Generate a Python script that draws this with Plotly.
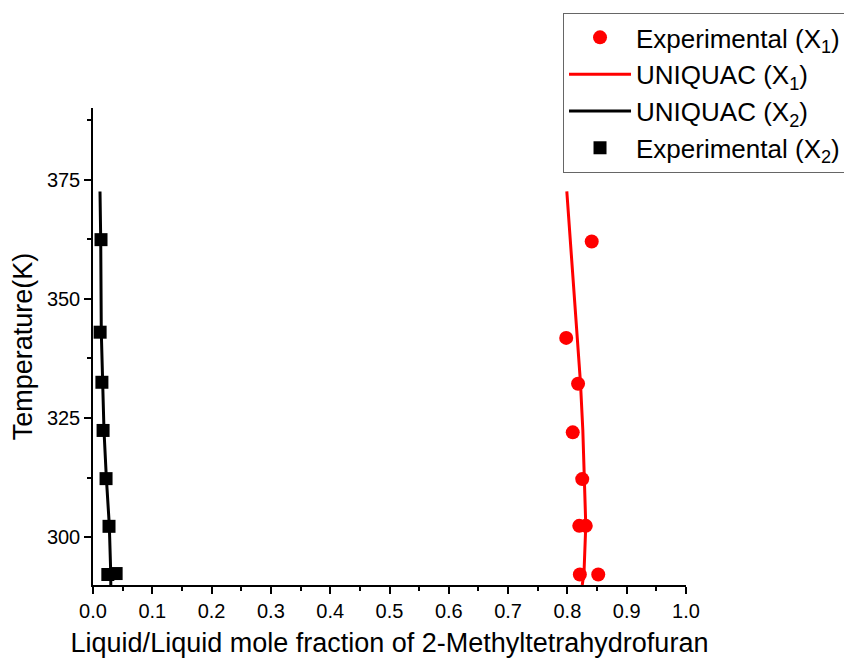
import plotly.graph_objects as go

# Experimental X1 (red circles)
exp1_x = [0.841, 0.798, 0.818, 0.809, 0.825, 0.820, 0.831, 0.821, 0.852]
exp1_t = [362.0, 341.8, 332.2, 322.0, 312.2, 302.4, 302.4, 292.2, 292.2]

# UNIQUAC X1 (red line)
uniq1_x = [0.799, 0.805, 0.811, 0.817, 0.822, 0.826, 0.829, 0.831, 0.828, 0.825]
uniq1_t = [372.5, 362.5, 352.5, 342.5, 332.5, 322.5, 312.5, 302.5, 292.5, 290.0]

# UNIQUAC X2 (black line)
uniq2_x = [0.0118, 0.013, 0.014, 0.0157, 0.0185, 0.0225, 0.0275, 0.030, 0.030]
uniq2_t = [372.5, 362.5, 343.0, 332.5, 322.5, 312.5, 302.5, 292.2, 290.0]

# Experimental X2 (black squares)
exp2_x = [0.0135, 0.012, 0.015, 0.017, 0.022, 0.027, 0.025, 0.039]
exp2_t = [362.4, 343.0, 332.5, 322.4, 312.3, 302.3, 292.2, 292.4]

x_tickvals = [0.0, 0.1, 0.2, 0.3, 0.4, 0.5, 0.6, 0.7, 0.8, 0.9, 1.0]
y_tickvals = [300, 325, 350, 375]

FONT = "Liberation Sans, Arial, sans-serif"

fig = go.Figure()
fig.add_trace(go.Scatter(x=exp1_x, y=exp1_t, mode="markers",
                         marker=dict(symbol="circle", size=14, color="#ff0000"),
                         name="Experimental (X<sub>1</sub>)"))
fig.add_trace(go.Scatter(x=uniq1_x, y=uniq1_t, mode="lines",
                         line=dict(color="#ff0000", width=3),
                         name="UNIQUAC (X<sub>1</sub>)"))
fig.add_trace(go.Scatter(x=uniq2_x, y=uniq2_t, mode="lines",
                         line=dict(color="#000000", width=3),
                         name="UNIQUAC (X<sub>2</sub>)"))
fig.add_trace(go.Scatter(x=exp2_x, y=exp2_t, mode="markers",
                         marker=dict(symbol="square", size=13, color="#000000"),
                         name="Experimental (X<sub>2</sub>)"))

fig.update_layout(
    width=844, height=654,
    margin=dict(l=85, r=166, t=100, b=77, autoexpand=False),
    paper_bgcolor="white", plot_bgcolor="white",
    font=dict(family=FONT, color="#000000"),
    legend=dict(xref="container", yref="container",
                x=0.6576, y=0.9924, xanchor="left", yanchor="top",
                bordercolor="#666666", borderwidth=1, bgcolor="white",
                font=dict(size=26, family=FONT), itemwidth=62,
                tracegroupgap=0),
    xaxis=dict(range=[0, 1.0], tickvals=x_tickvals, tickformat=".1f",
               automargin=False,
               showgrid=False, zeroline=False, showline=True,
               linecolor="black", linewidth=1.5, ticks="outside",
               ticklen=7, tickwidth=1.5, tickcolor="black",
               tickfont=dict(size=20),
               minor=dict(ticks="outside", ticklen=4, tickwidth=1.5,
                          tickcolor="black", dtick=0.05, tick0=0),
               title=dict(text="Liquid/Liquid mole fraction of 2-Methyltetrahydrofuran",
                          font=dict(size=27), standoff=12)),
    yaxis=dict(range=[290, 390], tickvals=y_tickvals,
               automargin=False,
               showgrid=False, zeroline=False, showline=True,
               linecolor="black", linewidth=1.5, ticks="outside",
               ticklen=7, tickwidth=1.5, tickcolor="black",
               tickfont=dict(size=20),
               minor=dict(ticks="outside", ticklen=4, tickwidth=1.5,
                          tickcolor="black", dtick=12.5, tick0=300),
               title=dict(text="Temperature(K)", font=dict(size=27), standoff=10)),
)

fig.write_html("out.html")
